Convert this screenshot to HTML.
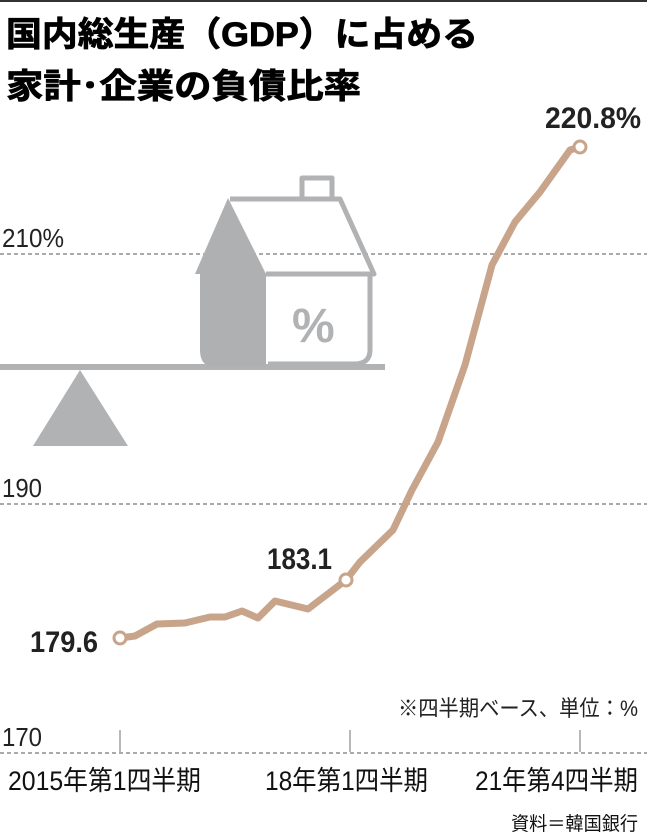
<!DOCTYPE html>
<html><head><meta charset="utf-8"><style>
html,body{margin:0;padding:0;background:#fff}
svg{display:block}
text{font-family:"Liberation Sans","Noto Sans CJK JP",sans-serif}
</style></head><body>
<svg width="647" height="839" viewBox="0 0 647 839" xmlns="http://www.w3.org/2000/svg">
<rect x="0" y="0" width="647" height="2" fill="#333"/>
<text x="6" y="46" font-size="34" font-weight="bold" fill="#000" stroke="#000" stroke-width="0.8" textLength="472" lengthAdjust="spacingAndGlyphs">国内総生産（GDP）に占める</text>
<text x="6" y="98" font-size="34" font-weight="bold" fill="#000" stroke="#000" stroke-width="0.8" textLength="355" lengthAdjust="spacingAndGlyphs">家計･企業の負債比率</text>
<g stroke="#777" stroke-width="1.2" stroke-dasharray="4,3">
<line x1="0" y1="254" x2="647" y2="254"/>
<line x1="0" y1="504" x2="647" y2="504"/>
<line x1="0" y1="753" x2="647" y2="753"/>
</g>
<text x="2" y="247" font-size="26" fill="#222" textLength="62" lengthAdjust="spacingAndGlyphs">210%</text>
<text x="2" y="497" font-size="26" fill="#222" textLength="40" lengthAdjust="spacingAndGlyphs">190</text>
<text x="2" y="746" font-size="26" fill="#222" textLength="40" lengthAdjust="spacingAndGlyphs">170</text>
<g fill="#b0b2b4" stroke="none">
<rect x="0" y="364" width="385" height="6"/>
<polygon points="80,370 128,446 33,446"/>
<path d="M228,198 L266,274 L266,367 L215,367 Q200,367 200,350 L200,274 L195,274 Z" fill="#aeb0b2"/>
</g>
<g fill="none" stroke="#b0b2b4" stroke-width="5" stroke-linejoin="round">
<polyline points="302,197 302,178 332,178 332,197"/>
<polyline points="230,199 340,199 374,274 266,274"/>
<path d="M370,274 L370,350 Q370,364 354,364 L268,364"/>
</g>
<text x="292" y="342" font-size="48" font-weight="bold" fill="#b0b2b4">%</text>
<g stroke="#888" stroke-width="1.2">
<line x1="120" y1="730" x2="120" y2="752"/>
<line x1="350" y1="730" x2="350" y2="752"/>
<line x1="580" y1="730" x2="580" y2="752"/>
</g>
<polyline fill="none" stroke="#c8a58a" stroke-width="7" stroke-linejoin="round" stroke-linecap="round"
points="120,638 135,636 157,624 185,623 210,617 225,617 242,611 258,618 275,601 308,609 346,580 360,562 393,530 412,490 438,442 465,365 492,265 515,222 540,192 570,150 580,147"/>
<circle cx="120" cy="638" r="6" fill="#fff" stroke="#c8a58a" stroke-width="3"/>
<circle cx="346" cy="580" r="6" fill="#fff" stroke="#c8a58a" stroke-width="3"/>
<circle cx="580" cy="147" r="6" fill="#fff" stroke="#c8a58a" stroke-width="3"/>
<text x="30" y="652" font-size="30" font-weight="bold" fill="#222" textLength="68" lengthAdjust="spacingAndGlyphs">179.6</text>
<text x="267" y="569" font-size="30" font-weight="bold" fill="#222" textLength="65" lengthAdjust="spacingAndGlyphs">183.1</text>
<text x="545" y="128" font-size="30" font-weight="bold" fill="#222" textLength="96" lengthAdjust="spacingAndGlyphs">220.8%</text>
<text x="398" y="716" font-size="22" fill="#222" textLength="240" lengthAdjust="spacingAndGlyphs">※四半期ベース、単位：%</text>
<text x="8" y="790" font-size="27" fill="#111" textLength="193" lengthAdjust="spacingAndGlyphs">2015年第1四半期</text>
<text x="265" y="790" font-size="27" fill="#111" textLength="163" lengthAdjust="spacingAndGlyphs">18年第1四半期</text>
<text x="475" y="790" font-size="27" fill="#111" textLength="163" lengthAdjust="spacingAndGlyphs">21年第4四半期</text>
<text x="511" y="830" font-size="19" fill="#111" textLength="127" lengthAdjust="spacingAndGlyphs">資料＝韓国銀行</text>
</svg>
</body></html>
